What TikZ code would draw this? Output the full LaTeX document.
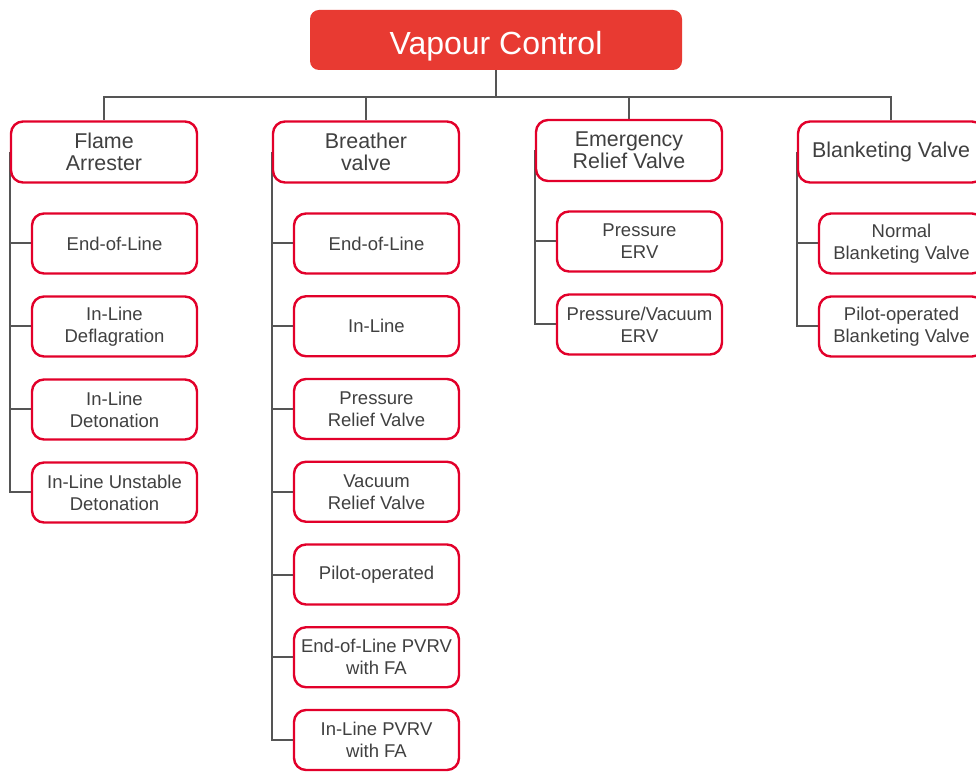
\documentclass[tikz,border=0pt]{standalone}
\usepackage{fontspec}
\setmainfont{Liberation Sans}
\usetikzlibrary{backgrounds}

\definecolor{vcred}{RGB}{232,58,50}
\definecolor{boxred}{RGB}{226,0,42}
\definecolor{linegray}{RGB}{85,85,85}
\definecolor{textgray}{RGB}{64,64,64}

\tikzset{
    rootbox/.style={fill=vcred, rounded corners=9pt, minimum width=372pt,
        minimum height=60pt, text=white, text height=30pt, text depth=0pt,
        font=\fontsize{32}{36}\selectfont},
    groupbox/.style={draw=boxred, line width=2.4pt, fill=white, rounded corners=12pt,
        minimum width=186pt, minimum height=61pt, align=center, text=textgray,
        font=\fontsize{21.4}{22}\selectfont},
    itembox/.style={groupbox, minimum width=165pt, minimum height=60pt,
        font=\fontsize{18.5}{22}\selectfont},
    link/.style={draw=linegray, line width=2pt}
}

\begin{document}
\begin{tikzpicture}[x=1pt, y=1pt]

    % Page frame
    \useasboundingbox (0,0) rectangle (976,771);
    \clip (0,0) rectangle (976,771);

    % Root
    \node[rootbox] (root) at (496,731) {Vapour Control};
    \coordinate (bus) at (496,674);

    % Second level
    \node[groupbox] (fa)  at (104,619)   {Flame\\Arrester};
    \node[groupbox] (bv)  at (366,619)   {Breather\\valve};
    \node[groupbox] (erv) at (629,620.5) {Emergency\\Relief Valve};
    \node[groupbox] (blv) at (891,619)   {Blanketing Valve};

    % Flame arrester items
    \foreach \lbl [count=\i] in {End-of-Line, {In-Line\\Deflagration},
        {In-Line\\Detonation}, {In-Line Unstable\\Detonation}} {
        \node[itembox] (fa-\i) at (114.5, 527.5 - 83*\i + 83) {\lbl};
    }

    % Breather valve items
    \foreach \lbl [count=\i] in {End-of-Line, In-Line, {Pressure\\Relief Valve},
        {Vacuum\\Relief Valve}, Pilot-operated, {End-of-Line PVRV\\with FA},
        {In-Line PVRV\\with FA}} {
        \node[itembox] (bv-\i) at (376.5, 527.5 - 82.75*\i + 82.75) {\lbl};
    }

    % Emergency relief valve items
    \foreach \lbl [count=\i] in {{Pressure\\ERV}, {Pressure/Vacuum\\ERV}} {
        \node[itembox] (erv-\i) at (639.5, 529.5 - 83*\i + 83) {\lbl};
    }

    % Blanketing valve items
    \foreach \lbl [count=\i] in {{Normal\\Blanketing Valve},
        {Pilot-operated\\Blanketing Valve}} {
        \node[itembox] (blv-\i) at (901.5, 527.5 - 83*\i + 83) {\lbl};
    }

    % Connectors behind the boxes
    \begin{scope}[on background layer]
        \draw[link] (root.south) -- (bus);
        \foreach \g in {fa, bv, erv, blv}
            \draw[link] (bus) -| (\g.north);
        \foreach \i in {1,...,4}
            \draw[link] (fa.west) |- (fa-\i.west);
        \foreach \i in {1,...,7}
            \draw[link] (bv.west) |- (bv-\i.west);
        \foreach \i in {1,2} {
            \draw[link] (erv.west) |- (erv-\i.west);
            \draw[link] (blv.west) |- (blv-\i.west);
        }
    \end{scope}

\end{tikzpicture}
\end{document}
